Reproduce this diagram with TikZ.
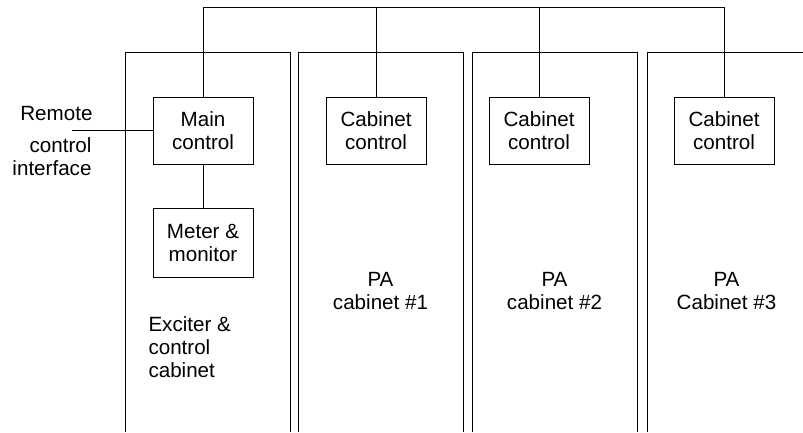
\documentclass[tikz,border=0pt]{standalone}
\usepackage{fontspec}
\setmainfont{Liberation Sans}
\begin{document}
\begin{tikzpicture}[x=1pt,y=-1pt,line width=1pt,
  txt/.style={font=\fontsize{20.6}{23}\selectfont, inner sep=0pt},
  box/.style={txt, draw, minimum width=100pt, minimum height=67pt, align=center},
  cab/.style={line width=1pt}]
\useasboundingbox (0,0) rectangle (803,432);
% cabinets (open at bottom)
\draw[cab] (125,432) -- (125,52) -- (290,52) -- (290,432);
\draw[cab] (298,432) -- (298,52) -- (463,52) -- (463,432);
\draw[cab] (472,432) -- (472,52) -- (637,52) -- (637,432);
\draw[cab] (647,432) -- (647,52) -- (803,52);
% boxes
\node[box] (main) at (203,130.5) {Main\\control};
\node[box] (cc1) at (376,130.5) {Cabinet\\control};
\node[box] (cc2) at (539,130.5) {Cabinet\\control};
\node[box] (cc3) at (724,130.5) {Cabinet\\control};
\node[box, minimum height=69pt] (meter) at (203,242.5) {Meter \&\\monitor};
% bus
\coordinate (busl) at (203,7);
\coordinate (busr) at (724,7);
\draw (main.north) -- (busl) -- (busr) -- (cc3.north);
\draw (cc1.north) -- (cc1.north |- busl);
\draw (cc2.north) -- (cc2.north |- busl);
\draw (main.south) -- (meter.north);
% remote
\coordinate (rem) at (72,130.5);
\draw (rem) -- (main.west);
\node[txt, anchor=base east] (t1) at (93,120) {Remote};
\node[txt, anchor=base east] (t2) at (92,152) {control};
\node[txt, anchor=base east] (t3) at (92,175) {interface};
% labels
\node[txt, anchor=north west, align=left] (exc) at (148,316) {Exciter \&\\control\\cabinet};
\node[txt, anchor=north, align=center] (pa1) at (380.5,272) {PA\\cabinet \#1};
\node[txt, anchor=north, align=center] (pa2) at (554.5,272) {PA\\cabinet \#2};
\node[txt, anchor=north, align=center] (pa3) at (726.5,272) {PA\\Cabinet \#3};
\end{tikzpicture}
\end{document}
